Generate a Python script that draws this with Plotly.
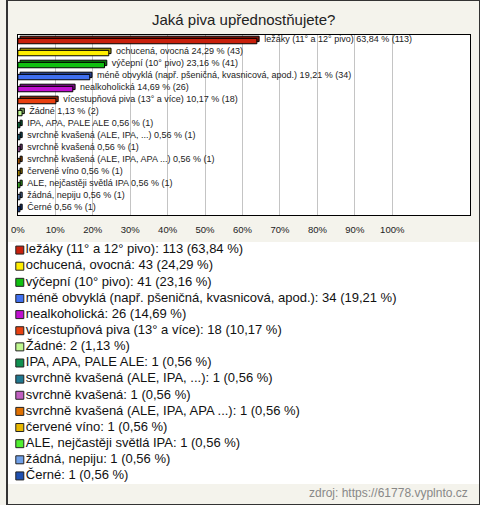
import plotly.graph_objects as go

categories = [
    "ležáky (11° a 12° pivo)",
    "ochucená, ovocná",
    "výčepní (10° pivo)",
    "méně obvyklá (např. pšeničná, kvasnicová, apod.)",
    "nealkoholická",
    "vícestupňová piva (13° a více)",
    "Žádné",
    "IPA, APA, PALE ALE",
    "svrchně kvašená (ALE, IPA, ...)",
    "svrchně kvašená",
    "svrchně kvašená (ALE, IPA, APA ...)",
    "červené víno",
    "ALE, nejčastěji světlá IPA",
    "žádná, nepiju",
    "Černé",
]
counts = [113, 43, 41, 34, 26, 18, 2, 1, 1, 1, 1, 1, 1, 1, 1]
percents = [63.84, 24.29, 23.16, 19.21, 14.69, 10.17, 1.13,
            0.56, 0.56, 0.56, 0.56, 0.56, 0.56, 0.56, 0.56]
colors = ["#c8200c", "#ffee00", "#10c010", "#4070f0", "#c010d0", "#e84010",
          "#c0f890", "#109050", "#207890", "#c060c0", "#e07000", "#e8b800",
          "#50f030", "#70a0e8", "#2050b0"]
tick_values = [0, 10, 20, 30, 40, 50, 60, 70, 80, 90, 100]
tick_labels = [f"{v}%" for v in tick_values]

FONT = "Liberation Sans, Arial, sans-serif"
W, H = 480, 505


def darker(hexcol, f=0.65):
    r, g, b = int(hexcol[1:3], 16), int(hexcol[3:5], 16), int(hexcol[5:7], 16)
    return "#%02x%02x%02x" % (int(r * f), int(g * f), int(b * f))


def fmt(p):
    return f"{p:.2f}".replace(".", ",")


rows = list(range(len(categories)))
bar_labels = ["\u00a0\u00a0" + f"{c} {fmt(p)} % ({n})" for c, p, n in zip(categories, percents, counts)]
legend_labels = [f"{c}: {n} ({fmt(p)} %)" for c, p, n in zip(categories, percents, counts)]

fig = go.Figure()

# back face (3D depth)
fig.add_trace(go.Bar(
    x=percents, y=rows, base=0.6, orientation="h",
    width=0.45, offset=-0.4,
    marker=dict(color=[darker(c) for c in colors], line=dict(color="black", width=1)),
    text=bar_labels, textposition="outside", constraintext="none",
    textfont=dict(family=FONT, size=9, color="#222"),
    cliponaxis=False, hoverinfo="skip", showlegend=False,
))
# front face
fig.add_trace(go.Bar(
    x=percents, y=rows, orientation="h",
    width=0.45, offset=-0.22,
    marker=dict(color=colors, line=dict(color="black", width=1)),
    hoverinfo="skip", showlegend=False,
))

# legend drawn as markers with text on a separate hidden axis
fig.add_trace(go.Scatter(
    x=[0] * len(rows), y=rows, mode="markers+text",
    marker=dict(symbol="square", size=8, color=colors, line=dict(color="#222", width=1)),
    text=legend_labels, textposition="middle right",
    textfont=dict(family=FONT, size=13, color="#111"),
    xaxis="x2", yaxis="y2", hoverinfo="skip", showlegend=False, cliponaxis=False,
))

y_top, y_bot = 35, 215
lg_top, lg_bot = 242, 484

fig.update_layout(
    width=W, height=H,
    margin=dict(l=0, r=0, t=0, b=0),
    paper_bgcolor="#f4f3ec",
    plot_bgcolor="white",
    barmode="overlay",
    showlegend=False,
    font=dict(family=FONT, color="#222"),
    xaxis=dict(
        domain=[11 / W, 470 / W], range=[0, 120.8],
        tickvals=tick_values, ticktext=tick_labels,
        showgrid=True, gridcolor="#c4c4c4", gridwidth=1,
        zeroline=False, showline=True, linecolor="black", linewidth=1, mirror=True,
        ticks="", ticklabelstandoff=6, tickfont=dict(family=FONT, size=9.5, color="#222"),
        fixedrange=True,
    ),
    yaxis=dict(
        domain=[1 - y_bot / H, 1 - y_top / H], range=[14.5, -0.5],
        showticklabels=False, showgrid=False, zeroline=False,
        showline=True, linecolor="black", linewidth=1, mirror=True, ticks="",
        fixedrange=True,
    ),
    xaxis2=dict(domain=[0, 1], range=[-13, W - 13], visible=False, anchor="y2", fixedrange=True),
    yaxis2=dict(domain=[1 - lg_bot / H, 1 - lg_top / H], range=[14.5, -0.5],
                visible=False, anchor="x2", fixedrange=True),
    shapes=[dict(type="rect", xref="paper", yref="paper", x0=0, x1=1, y0=0, y1=1,
                 line=dict(color="#333", width=2), fillcolor="rgba(0,0,0,0)", layer="above")],
    annotations=[
        dict(text="Jaká piva upřednostňujete?", xref="paper", yref="paper",
             x=0.5, y=1 - 19 / H, xanchor="center", yanchor="middle", showarrow=False,
             font=dict(family=FONT, size=15, color="#222")),
        dict(text="zdroj: https://61778.vyplnto.cz", xref="paper", yref="paper",
             x=470 / W, y=1 - 493 / H, xanchor="right", yanchor="middle", showarrow=False,
             font=dict(family=FONT, size=12, color="#888")),
    ],
)

fig.write_html("out.html", config={"displayModeBar": False},
               post_script="document.body.style.margin='0';document.body.style.overflow='hidden';")
